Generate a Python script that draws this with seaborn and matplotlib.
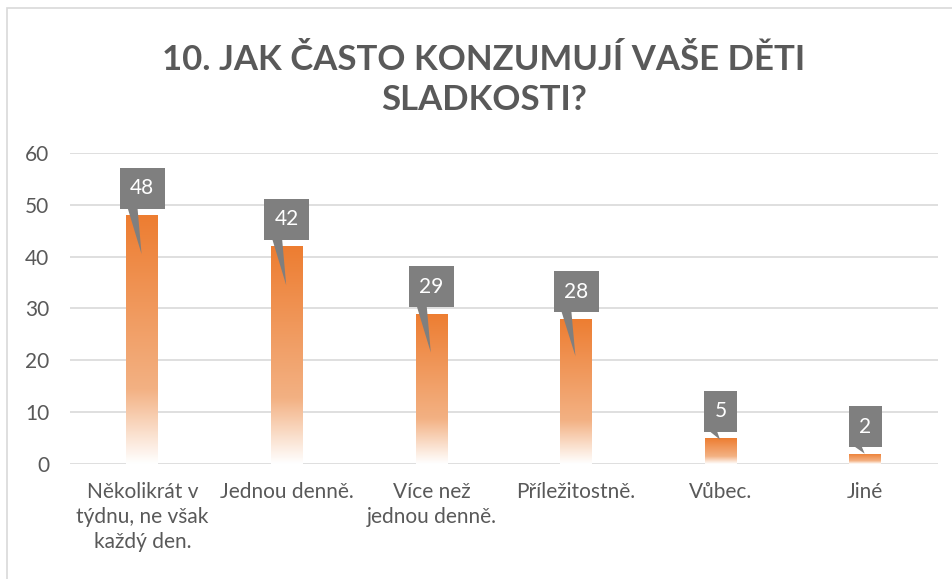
import numpy as np
import pandas as pd
import matplotlib
matplotlib.use("Agg")
import matplotlib.pyplot as plt
import matplotlib.transforms as mtransforms
from matplotlib.colors import LinearSegmentedColormap
from matplotlib.patches import Rectangle
import seaborn as sns

# data
categories = [
    "Několikrát v\ntýdnu, ne však\nkaždý den.",
    "Jednou denně.",
    "Více než\njednou denně.",
    "Příležitostně.",
    "Vůbec.",
    "Jiné",
]
counts = [48, 42, 29, 28, 5, 2]
y_ticks = [0, 10, 20, 30, 40, 50, 60]
title = "10. JAK ČASTO KONZUMUJÍ VAŠE DĚTI\nSLADKOSTI?"

ORANGE = "#ED7D31"
GREY_TEXT = "#595959"
GRID = "#D9D9D9"
BOX = "#7F7F7F"

sns.set_theme(style="white")
plt.rcParams["font.family"] = ["Lato", "DejaVu Sans"]

df = pd.DataFrame({"kategorie": categories, "pocet": counts})

fig = plt.figure(figsize=(9.52, 5.79), dpi=100)
ax = fig.add_axes([0.0735, 0.1986, 0.9115, 0.5372])

sns.barplot(data=df, x="kategorie", y="pocet", color=ORANGE, width=0.22,
            saturation=1, ax=ax, zorder=2)

# gradient fill: orange at the top fading to white at the bottom
cmap = LinearSegmentedColormap.from_list(
    "fade", [(0.0, "#FFFFFF"), (0.08, "#FCEBDF"), (0.3, "#F3B183"), (1.0, ORANGE)])
grad = np.linspace(0, 1, 256).reshape(-1, 1)
for patch in ax.patches:
    x0, y0 = patch.get_x(), patch.get_y()
    w, h = patch.get_width(), patch.get_height()
    patch.set_facecolor("none")
    patch.set_edgecolor("none")
    im = ax.imshow(grad, cmap=cmap, origin="lower", aspect="auto",
                   extent=(x0, x0 + w, y0, y0 + h), zorder=2)
    im.set_clip_path(patch)

ax.set_xlim(-0.5, len(categories) - 0.5)
ax.set_ylim(0, 60)
ax.set_yticks(y_ticks)
ax.yaxis.grid(True, color=GRID, linewidth=1.2, zorder=0)
ax.set_axisbelow(True)
for s in ax.spines.values():
    s.set_visible(False)
ax.set_xlabel("")
ax.set_ylabel("")
ax.tick_params(axis="both", length=0, colors=GREY_TEXT, labelsize=15)
ax.tick_params(axis="y", pad=15)
ax.tick_params(axis="x", pad=13)
for lab in ax.get_xticklabels():
    lab.set_linespacing(1.3)
    lab.set_color(GREY_TEXT)

# callout data labels: grey box above each bar with a pointer into the bar
label_tf = mtransforms.offset_copy(ax.transData, fig=fig, x=0, y=27, units="dots")
for i, v in enumerate(counts):
    depth = min(7.5, max(v - 4, 0) * 0.3)
    tip = v - depth
    base_y = v + 2.0
    ax.fill([i - 0.108, i - 0.035, i - 0.005], [base_y, base_y, tip],
            color=BOX, lw=0, zorder=4)
    ax.text(i, v, str(v), transform=label_tf, ha="center", va="center",
            color="white", fontsize=15, zorder=5,
            bbox=dict(boxstyle="square,pad=0.5", fc=BOX, ec="none"))

fig.text(0.508, 0.862, title, ha="center", va="center", fontsize=25,
         fontweight="bold", color=GREY_TEXT, linespacing=1.3)

fig.patches.append(Rectangle((7 / 952, -0.01), 1.0, 1 - 8 / 579 + 0.01,
                             transform=fig.transFigure, fill=False,
                             edgecolor=GRID, linewidth=1.2))

fig.savefig("out.png", dpi=100)
